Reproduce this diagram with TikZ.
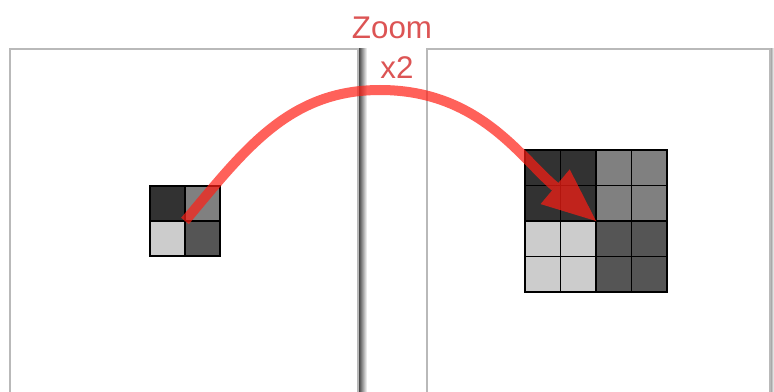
\documentclass[tikz,border=0pt]{standalone}
\usepackage{fontspec}
\setmainfont{Liberation Sans}
\usetikzlibrary{arrows.meta}
\definecolor{ZoomRed}{RGB}{220,84,84}
\definecolor{ArrowRed}{RGB}{255,30,20}
\definecolor{PanelGray}{RGB}{185,185,185}
\definecolor{CellDark}{RGB}{50,50,50}
\definecolor{CellMid}{RGB}{128,128,128}
\definecolor{CellLight}{RGB}{204,204,204}
\definecolor{CellDeep}{RGB}{85,85,85}

\begin{document}
\begin{tikzpicture}[x=0.75pt, y=-0.75pt,
    panel/.style={draw=PanelGray, line width=0.8pt, fill=white},
    gridbox/.style={draw=black, line width=1.1pt, inner sep=0pt},
    zoomarrow/.style={draw=ArrowRed, opacity=0.7, line width=7.5pt,
      -{Triangle[length=40pt, width=34pt, line width=0pt, fill=ArrowRed]}},
    zoomtext/.style={text=ZoomRed, font=\fontsize{23.5}{26}\selectfont}]
  \useasboundingbox (0,0) rectangle (774,392);

  % Panels
  \shade[left color=black!80, right color=white] (358,49) rectangle (367,400);
  \shade[left color=black!45, right color=white] (770,49) rectangle (774,400);
  \draw[panel] (10,49) rectangle (358,400);
  \draw[panel] (427,49) rectangle (770,400);

  % Small grid
  \fill[CellDark]  (150,186) rectangle (185,221);
  \fill[CellMid]   (185,186) rectangle (220,221);
  \fill[CellLight] (150,221) rectangle (185,256);
  \fill[CellDeep]  (185,221) rectangle (220,256);
  \draw[black, line width=1.1pt] (185,186) -- (185,256) (150,221) -- (220,221);
  \node[gridbox, minimum size=52.5pt] (smallgrid) at (185,221) {};

  % Big grid
  \fill[CellDark]  (525,150) rectangle (596,221);
  \fill[CellMid]   (596,150) rectangle (667,221);
  \fill[CellLight] (525,221) rectangle (596,292);
  \fill[CellDeep]  (596,221) rectangle (667,292);
  \foreach \k in {185.5,221,256.5}{
    \draw[black, line width=1.1pt] (\k+375,150) -- (\k+375,292);
    \draw[black, line width=1.1pt] (525,\k) -- (667,\k);
  }
  \node[gridbox, minimum size=106.5pt] (biggrid) at (596,221) {};

  % Zoom label
  \node[zoomtext] (zoomlabel) at (392,28) {Zoom};
  \node[zoomtext] (factor) at (397,68) {x2};

  % Arrow
  \coordinate (arcpeak) at (380,90);
  \draw[zoomarrow] (smallgrid.center) to[out=50, in=180] (arcpeak)
    to[out=0, in=140] (biggrid.center);
\end{tikzpicture}
\end{document}
